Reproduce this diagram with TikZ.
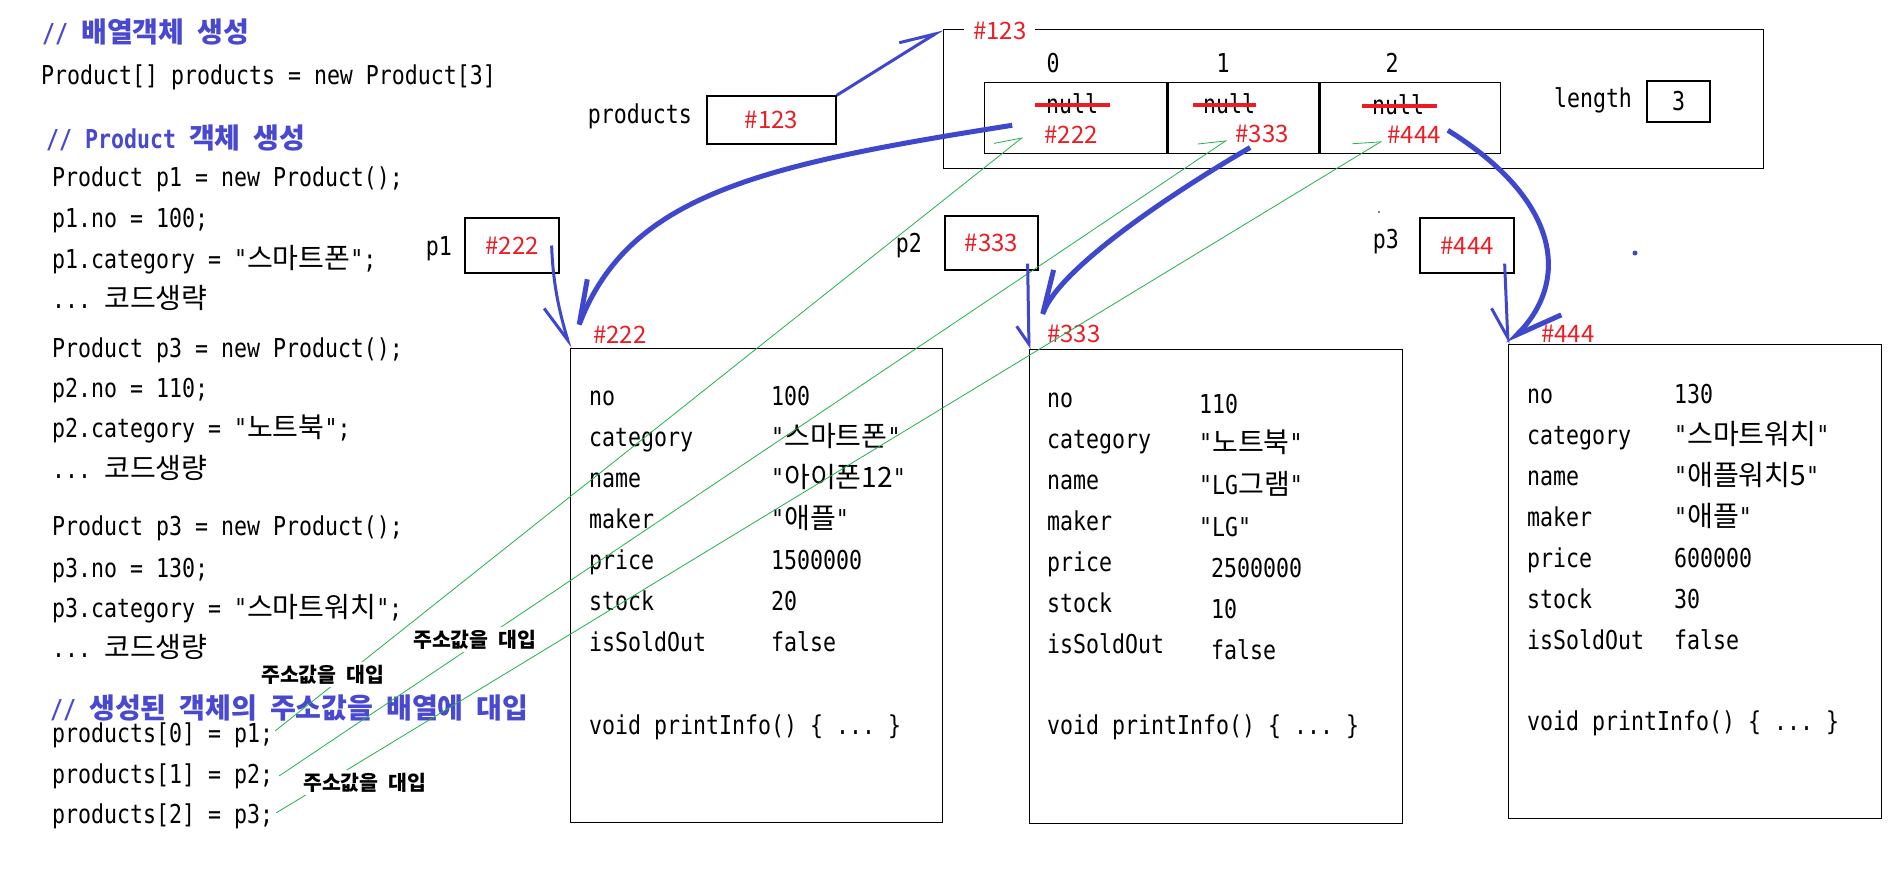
\documentclass[tikz,border=0pt]{standalone}
\usepackage{fontspec}
\setmonofont[FakeStretch=0.83]{DejaVu Sans Mono}
\renewcommand{\familydefault}{\ttdefault}
\newfontfamily\krfont[Scale=1.08]{Noto Sans CJK KR}
\newfontfamily\addrfont{Noto Sans CJK KR}
\newcommand{\kor}[1]{{\krfont\spaceskip=0.46em\relax #1}}
\usetikzlibrary{positioning, calc, arrows.meta}
\definecolor{arrblue}{RGB}{63,72,204}
\definecolor{cmtblue}{RGB}{72,72,208}
\definecolor{addrred}{RGB}{237,28,36}
\definecolor{linkgreen}{RGB}{34,177,76}

\begin{document}
\begin{tikzpicture}[x=1pt,y=-1pt,
  code/.style={anchor=base west,inner sep=0pt,font=\fontsize{26}{30}\selectfont},
  cmt/.style={code,text=cmtblue,font=\fontsize{26}{30}\selectfont\bfseries},
  addr/.style={inner sep=0pt,text=addrred,font=\addrfont\fontsize{24}{28}\selectfont},
  box/.style={draw,line width=1.3pt,inner sep=0pt},
  strike/.style={draw=addrred,line width=4.5pt},
  ref/.style={draw=arrblue,line width=3pt},
  thickref/.style={draw=arrblue,line width=5pt},
  assign/.style={draw=linkgreen,line width=0.8pt,-{Straight Barb[harpoon,length=25pt,width=26pt]}},
  note/.style={fill=white,inner sep=3pt,font=\krfont\fontsize{19}{24}\selectfont\bfseries}]
\fill[white] (0,0) rectangle (1898,868);

% code
\node[cmt] (c0) at (42,42) {// \kor{배열객체 생성}};
\node[code] (c1) at (41,84) {Product[] products = new Product[3]};
\node[cmt] (c2) at (46,148) {// Product \kor{객체 생성}};
\foreach \y/\t [count=\i from 3] in {186/{Product p1 = new Product();}, 227/{p1.no = 100;},
  268/{p1.category = "\kor{스마트폰}";}, 308/{... \kor{코드생략}}, 357/{Product p3 = new Product();},
  397/{p2.no = 110;}, 437/{p2.category = "\kor{노트북}";}, 478/{... \kor{코드생량}},
  535/{Product p3 = new Product();}, 577/{p3.no = 130;}, 617/{p3.category = "\kor{스마트워치}";},
  657/{... \kor{코드생량}}}
  \node[code] (c\i) at (52,\y) {\t};
\node[cmt] (c15) at (50,718) {// \kor{생성된 객체의 주소값을 배열에 대입}};
\node[code] (a0) at (52,742) {products[0] = p1;};
\node[code] (a1) at (52,783) {products[1] = p2;};
\node[code] (a2) at (52,823) {products[2] = p3;};

% variables
\node[box,addr,minimum width=129pt,minimum height=48pt] (pv) at (771.5,120) {\#123};
\node[code,anchor=base east] (lpv) at (692,123) {products};
\node[box,addr,minimum width=94pt,minimum height=55pt] (pb1) at (512,245.5) {\#222};
\node[code,anchor=base east] (lp1) at (452,255) {p1};
\node[box,addr,minimum width=93pt,minimum height=54pt] (pb2) at (991.5,243) {\#333};
\node[code,anchor=base east] (lp2) at (922,252) {p2};
\node[box,addr,minimum width=94pt,minimum height=55pt] (pb3) at (1467,245.5) {\#444};
\node[code,anchor=base east] (lp3) at (1399,248) {p3};

% array
\node[box,anchor=north west,minimum width=820pt,minimum height=139pt] (arr) at (943,29) {};
\node[addr,fill=white,inner xsep=9pt,anchor=west] (arraddr) at (964,31) {\#123};
\node[box,anchor=north west,minimum width=182pt,minimum height=71pt] (cell0) at (984,82) {};
\node[box,anchor=north west,minimum width=151pt,minimum height=71pt] (cell1) at (cell0.north east) {};
\node[box,anchor=north west,minimum width=180pt,minimum height=71pt] (cell2) at (cell1.north east) {};
\node[code,anchor=base] (i0) at (1053,72) {0};
\node[code,anchor=base] (i1) at (1223,72) {1};
\node[code,anchor=base] (i2) at (1392,72) {2};
\node[code,anchor=base] (n0) at (1072,113) {null};
\node[code,anchor=base] (n1) at (1229,113) {null};
\node[code,anchor=base] (n2) at (1398,114) {null};
\draw[strike] ([xshift=-11pt,yshift=8pt]n0.base west) -- ([xshift=12pt,yshift=8pt]n0.base east);
\draw[strike] ([xshift=-10pt,yshift=8pt]n1.base west) -- ([xshift=1pt,yshift=8pt]n1.base east);
\draw[strike] ([xshift=-10pt,yshift=8pt]n2.base west) -- ([xshift=13pt,yshift=8pt]n2.base east);
\node[addr,anchor=base] (v0) at (1071,143) {\#222};
\node[addr,anchor=base] (v1) at (1262,142) {\#333};
\node[addr,anchor=base] (v2) at (1414,143) {\#444};
\node[code,anchor=center] (llen) at (1593,100) {length};
\node[box,code,anchor=center,minimum width=63pt,minimum height=41pt] (len) at (1678.5,101.5) {3};

% objects
\node[box,anchor=north west,minimum width=372pt,minimum height=474pt] (obj1) at (570,348) {};
\node[box,anchor=north west,minimum width=373pt,minimum height=474pt] (obj2) at (1029,349) {};
\node[box,anchor=north west,minimum width=373pt,minimum height=474pt] (obj3) at (1508,344) {};
\node[addr,anchor=west] (o1) at (593,335) {\#222};
\node[addr,anchor=west] (o2) at (1047,334) {\#333};
\node[addr,anchor=west] (o3) at (1541,334) {\#444};
\foreach \k [count=\i] in {no,category,name,maker,price,stock,isSoldOut}{
  \node[code] (ka\i) at (589,{364+41*\i}) {\k};
  \node[code] (kb\i) at (1047,{366+41*\i}) {\k};
  \node[code] (kc\i) at (1527,{362+41*\i}) {\k};
}
\foreach \v [count=\i] in {100,"\kor{스마트폰}","\kor{아이폰12}","\kor{애플}",1500000,20,false}
  \node[code] (va\i) at (771,{364+41*\i}) {\v};
\foreach \v/\x/\y [count=\i] in {110/1199/413,"\kor{노트북}"/1199/452,"LG\kor{그램}"/1199/494,
  "LG"/1199/536,2500000/1211/577,10/1211/618,false/1211/659}
  \node[code] (vb\i) at (\x,\y) {\v};
\foreach \v [count=\i] in {130,"\kor{스마트워치}","\kor{애플워치5}","\kor{애플}",600000,30,false}
  \node[code] (vc\i) at (1674,{362+41*\i}) {\v};
\node[code] (ma) at (589,734) {void printInfo() \{ ... \}};
\node[code] (mb) at (1047,734) {void printInfo() \{ ... \}};
\node[code] (mc) at (1527,730) {void printInfo() \{ ... \}};

% assignments
\coordinate (g0) at (1023,137);
\coordinate (g1) at (1227,140);
\coordinate (g2) at (1382,141);
\draw[assign] ([shift={(2,-4)}]a0.east) -- (g0);
\draw[assign] ([shift={(6,0)}]a1.east) -- (g1);
\draw[assign] ([shift={(3,-3)}]a2.east) -- (g2);
\node[note,anchor=base west] (s0) at (258,682) {\kor{주소값을 대입}};
\node[note,anchor=base west] (s1) at (410,647) {\kor{주소값을 대입}};
\node[note,anchor=base west] (s2) at (300,790) {\kor{주소값을 대입}};

% references
\draw[ref,-{Straight Barb[harpoon,length=35pt,width=23pt]}] (pv.north east) -- (arr.north west);
\draw[thickref,-{Straight Barb[harpoon,swap,length=45pt,width=18pt]}] ([xshift=-32pt,yshift=9pt]v0.west) .. controls (760,165) and (630,195) .. (obj1.north west);
\draw[thickref,-{Straight Barb[harpoon,swap,length=45pt,width=12pt]}] ([xshift=15pt,yshift=-5pt]v1.south west) .. controls (1160,200) and (1060,270) .. (obj2.north west);
\draw[thickref,-{Straight Barb[harpoon,length=45pt,width=36pt]}] ([xshift=7pt,yshift=4pt]v2.east) .. controls (1560,200) and (1570,280) .. (obj3.north west);
\draw[ref,-{Straight Barb[harpoon,swap,length=37pt,width=28pt]}] ([xshift=-8pt]pb1.east) .. controls (553,290) and (562,320) .. (obj1.north west);
\draw[ref,-{Straight Barb[harpoon,swap,length=18pt,width=24pt]}] ([xshift=-11pt,yshift=7pt]pb2.south east) -- (obj2.north west);
\draw[ref,-{Straight Barb[harpoon,swap,length=30pt,width=30pt]}] ([xshift=-10pt,yshift=10pt]pb3.south east) -- (obj3.north west);
\fill[arrblue] (1635,253) circle (2.5pt);
\fill (1379,212) circle (0.8pt);
\end{tikzpicture}
\end{document}
